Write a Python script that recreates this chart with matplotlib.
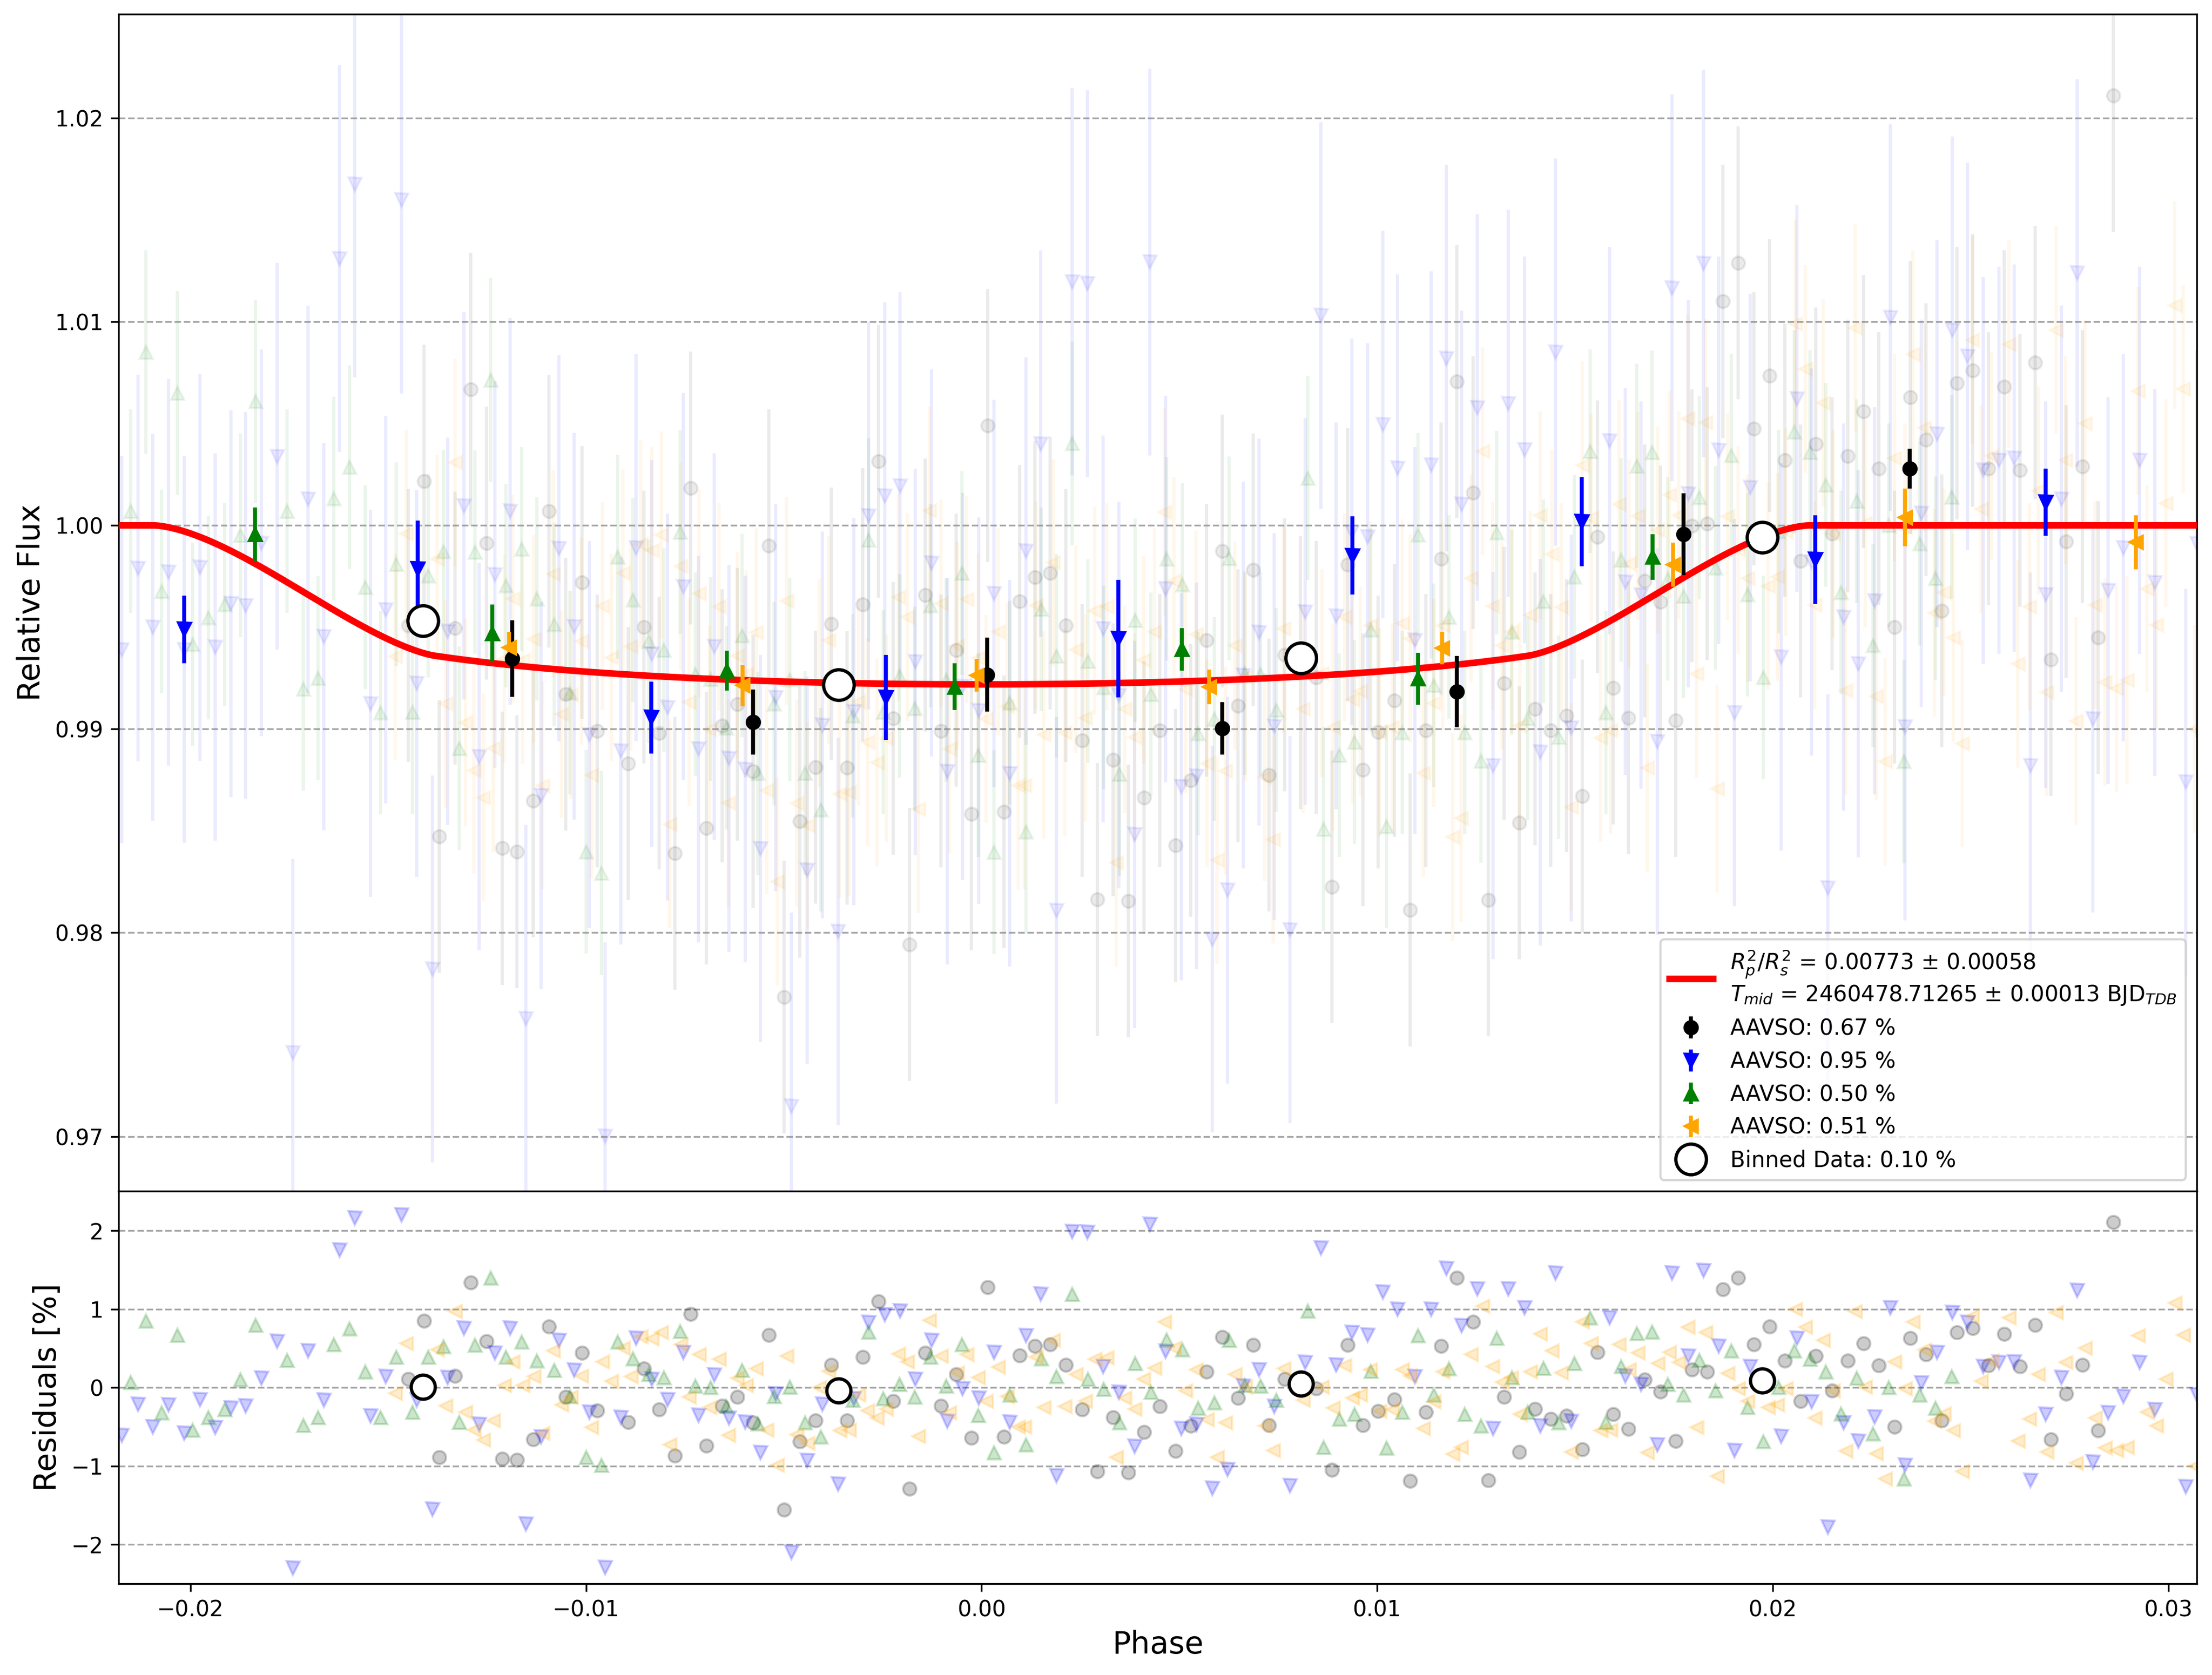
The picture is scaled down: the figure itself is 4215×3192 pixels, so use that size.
import numpy as np
import matplotlib
matplotlib.use("Agg")
import matplotlib.pyplot as plt

# ---- data (phase, residual in %) ----
# AAVSO 0.67 % (black)
k_phase = [-0.01449, -0.01410, -0.01371, -0.01331, -0.01291, -0.01252, -0.01212, -0.01174, -0.01134,
           -0.01093, -0.01051, -0.01010, -0.00972, -0.00893, -0.00853, -0.00815, -0.00775, -0.00736,
           -0.00696, -0.00656, -0.00617, -0.00578, -0.00538, -0.00499, -0.00459, -0.00420, -0.00380,
           -0.00340, -0.00300, -0.00261, -0.00223, -0.00182, -0.00143, -0.00103, -0.00064, -0.00026,
           0.00016, 0.00056, 0.00096, 0.00135, 0.00174, 0.00213, 0.00254, 0.00293, 0.00333, 0.00371,
           0.00411, 0.00451, 0.00491, 0.00529, 0.00569, 0.00608, 0.00648, 0.00687, 0.00726, 0.00766,
           0.00806, 0.00846, 0.00886, 0.00925, 0.00964, 0.01003, 0.01043, 0.01084, 0.01123, 0.01162,
           0.01202, 0.01242, 0.01281, 0.01321, 0.01360, 0.01399, 0.01439, 0.01479, 0.01518, 0.01557,
           0.01597, 0.01636, 0.01676, 0.01716, 0.01755, 0.01796, 0.01834, 0.01874, 0.01913, 0.01952,
           0.01992, 0.02031, 0.02070, 0.02109, 0.02150, 0.02190, 0.02230, 0.02268, 0.02308, 0.02348,
           0.02387, 0.02427, 0.02466, 0.02506, 0.02546, 0.02585, 0.02625, 0.02663, 0.02703, 0.02742,
           0.02783, 0.02823, 0.02861]
k_res = [0.11, 0.85, -0.89, 0.15, 1.34, 0.59, -0.91, -0.92, -0.66,
         0.78, -0.12, 0.44, -0.29, -0.44, 0.24, -0.28, -0.87, 0.94,
         -0.74, -0.23, -0.12, -0.45, 0.67, -1.56, -0.69, -0.42, 0.29,
         -0.42, 0.39, 1.10, -0.17, -1.29, 0.44, -0.23, 0.17, -0.64,
         1.28, -0.63, 0.41, 0.53, 0.55, 0.29, -0.28, -1.07, -0.38, -1.08,
         -0.57, -0.24, -0.81, -0.49, 0.20, 0.64, -0.13, 0.54, -0.48, 0.11,
         0.02, -0.01, -1.05, 0.54, -0.48, -0.30, -0.15, -1.19, -0.31, 0.53,
         1.40, 0.84, -1.18, -0.12, -0.82, -0.27, -0.40, -0.36, -0.79, 0.45,
         -0.34, -0.53, 0.10, -0.05, -0.68, 0.23, 0.20, 1.25, 1.40, 0.55,
         0.78, 0.34, -0.17, 0.40, -0.04, 0.34, 0.56, 0.28, -0.50, 0.63,
         0.42, -0.42, 0.70, 0.76, 0.28, 0.68, 0.27, 0.80, -0.66, -0.08,
         0.29, -0.55, 2.11]

# AAVSO 0.95 % (blue)
b_phase = [-0.02174, -0.02133, -0.02095, -0.02055, -0.02016, -0.01976, -0.01938, -0.01898, -0.01860,
           -0.01820, -0.01781, -0.01741, -0.01703, -0.01663, -0.01623, -0.01585, -0.01544, -0.01506,
           -0.01466, -0.01428, -0.01388, -0.01350, -0.01309, -0.01270, -0.01230, -0.01192, -0.01152,
           -0.01113, -0.01069, -0.01030, -0.00991, -0.00951, -0.00912, -0.00873, -0.00834, -0.00794,
           -0.00754, -0.00716, -0.00676, -0.00638, -0.00598, -0.00559, -0.00520, -0.00481, -0.00441,
           -0.00402, -0.00363, -0.00323, -0.00285, -0.00245, -0.00206, -0.00167, -0.00127, -0.00087,
           -0.00048, -0.00007, 0.00032, 0.00071, 0.00112, 0.00150, 0.00189, 0.00229, 0.00268, 0.00307,
           0.00347, 0.00387, 0.00425, 0.00465, 0.00505, 0.00544, 0.00583, 0.00622, 0.00662, 0.00701,
           0.00740, 0.00780, 0.00818, 0.00858, 0.00897, 0.00936, 0.00976, 0.01015, 0.01052, 0.01096,
           0.01136, 0.01175, 0.01214, 0.01253, 0.01293, 0.01332, 0.01373, 0.01412, 0.01451, 0.01491,
           0.01588, 0.01628, 0.01667, 0.01708, 0.01746, 0.01786, 0.01825, 0.01863, 0.01903, 0.01943,
           0.02021, 0.02061, 0.02099, 0.02139, 0.02179, 0.02217, 0.02257, 0.02297, 0.02335, 0.02376,
           0.02415, 0.02454, 0.02493, 0.02532, 0.02572, 0.02611, 0.02652, 0.02690, 0.02730, 0.02770,
           0.02810, 0.02848, 0.02887, 0.02927, 0.02966, 0.03044, 0.03072]
b_res = [-0.61, -0.21, -0.50, -0.22, -0.58, -0.15, -0.51, -0.26, -0.23,
         0.12, 0.59, -2.30, 0.47, -0.16, 1.75, 2.16, -0.36, 0.14,
         2.20, -0.16, -1.55, 0.13, 0.76, -0.47, 0.44, 0.76, -1.74,
         -0.63, 0.60, 0.22, -0.31, -2.29, -0.38, 0.63, 0.11, -0.15,
         0.45, -0.35, 0.16, -0.39, -0.44, -0.83, -0.08, -2.10, -0.93,
         -0.21, -1.23, -0.14, 0.83, 0.93, 0.98, 0.11, 0.60, -0.43,
         -0.01, -0.13, 0.45, -0.44, 0.66, 1.19, -1.12, 1.99, 1.98, 0.27,
         -0.06, -0.75, 2.08, 0.46, -0.52, -0.47, -1.28, -1.04, 0.02, 0.23,
         -0.24, -1.25, 0.32, 1.78, 0.29, 0.70, 0.67, 1.22, 1.00, 0.14,
         1.00, 1.52, 0.79, 1.26, -0.52, 1.26, 1.02, -0.49, 1.46, -0.43,
         0.89, 0.15, 0.04, -0.73, 1.46, 0.40, 1.49, 0.53, -0.80, 0.27,
         -0.62, 0.63, -0.18, -1.78, -0.45, -0.68, -0.37, 1.02, -0.99, 0.06,
         0.45, 0.96, 0.83, 0.27, 0.32, 0.33, -1.18, -0.34, 0.13, 1.24,
         -0.95, -0.32, -0.11, 0.32, -0.28, -1.26, -0.09]

# AAVSO 0.50 % (green)
g_phase = [-0.02151, -0.02113, -0.02073, -0.02033, -0.01994, -0.01954, -0.01914, -0.01874, -0.01835,
           -0.01755, -0.01715, -0.01677, -0.01638, -0.01598, -0.01558, -0.01519, -0.01479, -0.01439,
           -0.01399, -0.01360, -0.01320, -0.01281, -0.01241, -0.01202, -0.01163, -0.01124, -0.01080,
           -0.01040, -0.01000, -0.00961, -0.00920, -0.00881, -0.00842, -0.00803, -0.00762, -0.00724,
           -0.00685, -0.00645, -0.00605, -0.00566, -0.00524, -0.00485, -0.00446, -0.00407, -0.00326,
           -0.00286, -0.00249, -0.00208, -0.00169, -0.00129, -0.00089, -0.00049, -0.00008, 0.00032,
           0.00071, 0.00112, 0.00151, 0.00189, 0.00229, 0.00269, 0.00309, 0.00349, 0.00388, 0.00428,
           0.00468, 0.00508, 0.00548, 0.00588, 0.00626, 0.00666, 0.00705, 0.00745, 0.00825, 0.00865,
           0.00904, 0.00943, 0.00984, 0.01024, 0.01063, 0.01103, 0.01143, 0.01182, 0.01222, 0.01262,
           0.01302, 0.01341, 0.01381, 0.01420, 0.01459, 0.01499, 0.01539, 0.01578, 0.01617, 0.01656,
           0.01695, 0.01735, 0.01775, 0.01815, 0.01855, 0.01896, 0.01936, 0.01976, 0.02015, 0.02054,
           0.02094, 0.02134, 0.02173, 0.02213, 0.02253, 0.02293, 0.02332, 0.02372, 0.02412, 0.02452]
g_res = [0.07, 0.85, -0.32, 0.67, -0.54, -0.38, -0.28, 0.10, 0.80,
         0.35, -0.48, -0.38, 0.55, 0.75, 0.20, -0.38, 0.39, -0.31,
         0.39, 0.52, -0.44, 0.54, 1.40, 0.39, 0.58, 0.34, 0.22,
         -0.11, -0.89, -0.99, 0.58, 0.37, 0.17, 0.13, 0.72, 0.02,
         0.00, -0.24, 0.22, -0.46, -0.11, 0.01, -0.45, -0.63, -0.16,
         0.71, -0.14, 0.04, -0.12, 0.39, 0.02, 0.55, -0.35, -0.83,
         -0.09, -0.73, 0.37, 0.14, 1.19, 0.11, -0.02, -0.45, 0.31, -0.06,
         0.61, 0.48, -0.26, -0.19, 0.60, 0.03, 0.02, -0.16, 0.98, -0.76,
         -0.40, -0.34, 0.21, -0.77, -0.31, 0.66, -0.09, 0.24, -0.34, -0.49,
         0.63, 0.13, -0.31, 0.25, -0.45, 0.31, 0.89, -0.44, 0.27, 0.69,
         0.71, 0.04, -0.09, 0.35, -0.04, 0.47, -0.25, -0.69, 0.00, 0.47,
         0.36, 0.20, -0.33, 0.12, -0.59, 0.00, -1.16, -0.09, -0.26, 0.14]

# AAVSO 0.51 % (orange)
o_phase = [-0.01482, -0.01454, -0.01376, -0.01355, -0.01331, -0.01304, -0.01283, -0.01259, -0.01234,
           -0.01207, -0.01185, -0.01160, -0.01132, -0.01110, -0.01083, -0.01062, -0.01038, -0.01012,
           -0.00986, -0.00958, -0.00936, -0.00907, -0.00886, -0.00861, -0.00834, -0.00810, -0.00789,
           -0.00761, -0.00739, -0.00714, -0.00688, -0.00664, -0.00640, -0.00617, -0.00595, -0.00570,
           -0.00543, -0.00517, -0.00492, -0.00467, -0.00439, -0.00411, -0.00387, -0.00359, -0.00335,
           -0.00311, -0.00288, -0.00265, -0.00240, -0.00210, -0.00187, -0.00159, -0.00132, -0.00103,
           -0.00082, -0.00061, -0.00037, -0.00008, 0.00012, 0.00042, 0.00064, 0.00092, 0.00109,
           0.00137, 0.00158, 0.00181, 0.00210, 0.00238, 0.00262, 0.00286, 0.00317, 0.00340, 0.00362,
           0.00387, 0.00410, 0.00437, 0.00463, 0.00487, 0.00515, 0.00542, 0.00570, 0.00595, 0.00617,
           0.00641, 0.00667, 0.00716, 0.00737, 0.00764, 0.00813, 0.00861, 0.00889, 0.00917, 0.00938,
           0.00958, 0.00983, 0.01007, 0.01038, 0.01064, 0.01084, 0.01117, 0.01143, 0.01166, 0.01191,
           0.01212, 0.01238, 0.01266, 0.01292, 0.01316, 0.01340, 0.01361, 0.01387, 0.01413, 0.01441,
           0.01465, 0.01491, 0.01519, 0.01541, 0.01565, 0.01590, 0.01612, 0.01637, 0.01659, 0.01683,
           0.01709, 0.01739, 0.01763, 0.01785, 0.01808, 0.01831, 0.01859, 0.01886, 0.01912, 0.01936,
           0.01988, 0.02012, 0.02033, 0.02057, 0.02082, 0.02106, 0.02128, 0.02153, 0.02184, 0.02208,
           0.02233, 0.02261, 0.02284, 0.02308, 0.02334, 0.02355, 0.02383, 0.02409, 0.02433, 0.02457,
           0.02479, 0.02504, 0.02527, 0.02553, 0.02597, 0.02620, 0.02649, 0.02671, 0.02693, 0.02717,
           0.02741, 0.02767, 0.02789, 0.02815, 0.02840, 0.02869, 0.02896, 0.02923, 0.02946, 0.02970,
           0.02994, 0.03016, 0.03038, 0.03067]
o_res = [-0.07, 0.56, 0.48, -0.23, 0.97, -0.31, -0.54, -0.67, -0.42,
         0.03, 0.33, 0.03, 0.14, -0.58, 0.47, -0.22, -0.12, 0.15,
         -0.51, 0.33, 0.08, 0.50, 0.14, 0.65, 0.62, 0.70, -0.73,
         0.55, -0.12, 0.42, -0.25, 0.36, -0.61, 0.12, 0.03, 0.24,
         -0.54, -0.99, 0.40, -0.60, -0.71, 0.00, 0.21, -0.55, -0.54,
         -0.09, -0.29, -0.39, -0.27, 0.43, 0.33, -0.62, 0.86, 0.40,
         -0.32, 0.19, 0.42, 0.13, -0.17, 0.26, -0.11, -0.50, -0.50,
         0.39, -0.25, 0.60, -0.24, 0.17, -0.17, 0.36, 0.38, -0.89, -0.13,
         -0.27, 0.11, 0.25, 0.84, 0.50, -0.04, 0.23, -0.41, -0.89, -0.45,
         0.17, 0.01, -0.49, -0.80, 0.24, -0.16, 0.01, -0.26, 0.28, -0.13,
         -0.09, 0.23, -0.30, -0.28, 0.23, 0.15, -0.52, -0.18, 0.20, -0.85,
         -0.76, 0.42, 1.04, 0.27, 0.07, 0.13, -0.34, 0.20, 0.68, 0.47,
         0.19, -0.82, 0.84, 0.56, -0.55, -0.54, 0.55, 0.23, 0.44, -0.83,
         0.31, 0.45, 0.32, 0.77, -0.51, 0.70, -1.13, 0.18, -0.01, -0.17,
         -0.25, -0.22, -0.01, 1.00, 0.77, -0.39, 0.60, -0.04, -0.81, 0.97,
         0.01, -0.84, -1.16, 0.33, -0.01, 0.84, 0.48, -0.43, -0.33, -0.55,
         -1.07, 0.91, 0.08, 0.34, 0.89, -0.68, -0.40, 0.17, -0.82, 0.96,
         0.32, -0.96, 0.50, -0.39, -0.77, -0.80, -0.76, 0.66, -0.31, -0.49,
         0.11, 1.08, 0.67, -1.00]

# typical per-point uncertainty of each data set (relative flux)
k_err, b_err, g_err, o_err = 0.0067, 0.0095, 0.0050, 0.0051

# per data set binned points (phase, flux, error)
kb_phase = [-0.01187, -0.00577, 0.00014, 0.00608, 0.01202, 0.01774, 0.02347]
kb_flux = [0.99346, 0.99034, 0.99267, 0.99004, 0.99184, 0.99957, 1.00279]
kb_err = [0.00188, 0.00160, 0.00182, 0.00129, 0.00175, 0.00201, 0.00097]

bb_phase = [-0.02016, -0.01425, -0.00835, -0.00242, 0.00346, 0.00938, 0.01517, 0.02108, 0.02690]
bb_flux = [0.99490, 0.99786, 0.99057, 0.99155, 0.99444, 0.99852, 1.00018, 0.99832, 1.00114]
bb_err = [0.00166, 0.00237, 0.00177, 0.00208, 0.00289, 0.00192, 0.00219, 0.00217, 0.00164]

gb_phase = [-0.01837, -0.01237, -0.00644, -0.00068, 0.00507, 0.01103, 0.01697]
gb_flux = [0.99957, 0.99470, 0.99286, 0.99208, 0.99392, 0.99247, 0.99845]
gb_err = [0.00131, 0.00142, 0.00098, 0.00114, 0.00104, 0.00128, 0.00112]

ob_phase = [-0.01195, -0.00604, -0.00013, 0.00576, 0.01165, 0.01748, 0.02335, 0.02918]
ob_flux = [0.99401, 0.99214, 0.99264, 0.99208, 0.99398, 0.99808, 1.00039, 0.99917]
ob_err = [0.00076, 0.00102, 0.00080, 0.00085, 0.00080, 0.00108, 0.00141, 0.00133]

# all data binned
bin_phase = [-0.01412, -0.00361, 0.00808, 0.01973]
bin_flux = [0.99532, 0.99217, 0.99348, 0.99941]
bin_res = [0.01, -0.04, 0.05, 0.09]

rprs2, rprs2_err = 0.00773, 0.00058
tmid, tmid_err = 2460478.71265, 0.00013


def transit_model(phase, rp2=rprs2, b=0.75, v=37.68, u1=0.41, u2=0.2):
    # small planet + quadratic limb darkening
    k = np.sqrt(rp2)
    ph = np.asarray(phase, dtype=float)
    d = np.sqrt((ph * v) ** 2 + b ** 2)
    frac = np.zeros_like(d)
    frac[d <= 1 - k] = 1.0
    part = (d > 1 - k) & (d < 1 + k)
    dp = d[part]
    a1 = k ** 2 * np.arccos((dp ** 2 + k ** 2 - 1) / (2 * dp * k))
    a2 = np.arccos((dp ** 2 + 1 - k ** 2) / (2 * dp))
    a3 = 0.5 * np.sqrt(np.clip((-dp + k + 1) * (dp + k - 1) * (dp - k + 1) * (dp + k + 1), 0, None))
    frac[part] = (a1 + a2 - a3) / (np.pi * k ** 2)
    r = np.where(d <= 1 - k, d, (d - k + 1) / 2)
    mu = np.sqrt(np.clip(1 - r ** 2, 0, None))
    inten = 1 - u1 * (1 - mu) - u2 * (1 - mu) ** 2
    norm = 1 - u1 / 3 - u2 / 6
    return 1 - rp2 * frac * inten / norm


xmin, xmax = -0.02181, 0.03072

fig = plt.figure(figsize=(14.05, 10.64), dpi=300)
gs = fig.add_gridspec(2, 1, height_ratios=[3, 1], hspace=0,
                      left=0.0537, right=0.9931, top=0.9915, bottom=0.0545)
ax = fig.add_subplot(gs[0])
ax2 = fig.add_subplot(gs[1], sharex=ax)

sets = [
    (k_phase, k_res, k_err, 'o', 'black'),
    (b_phase, b_res, b_err, 'v', 'blue'),
    (g_phase, g_res, g_err, '^', 'green'),
    (o_phase, o_res, o_err, '<', 'orange'),
]

# faint raw points
for ph, res, err, mk, col in sets:
    ph = np.array(ph)
    flux = transit_model(ph) * (1 + np.array(res) / 100)
    ax.errorbar(ph, flux, yerr=err, fmt=mk, color=col, alpha=0.08, zorder=1)
    ax2.plot(ph, res, mk, color=col, alpha=0.2, ls='none', zorder=2)

# model
ph_line = np.linspace(xmin, xmax, 2000)
model_label = (r"$R_{p}^{2}/R_{s}^{2}$ = " + f"{rprs2:.5f} ± {rprs2_err:.5f}" + "\n"
               + r"$T_{mid}$ = " + f"{tmid:.5f} ± {tmid_err:.5f} " + r"BJD$_{TDB}$")
line_model, = ax.plot(ph_line, transit_model(ph_line), 'r-', lw=3, zorder=3, label=model_label)

# binned per data set
h1 = ax.errorbar(kb_phase, kb_flux, yerr=kb_err, fmt='o', color='black', elinewidth=1.8, zorder=4,
                 label='AAVSO: 0.67 %')
h2 = ax.errorbar(bb_phase, bb_flux, yerr=bb_err, fmt='v', color='blue', elinewidth=1.8, zorder=4,
                 label='AAVSO: 0.95 %')
h3 = ax.errorbar(gb_phase, gb_flux, yerr=gb_err, fmt='^', color='green', elinewidth=1.8, zorder=4,
                 label='AAVSO: 0.50 %')
h4 = ax.errorbar(ob_phase, ob_flux, yerr=ob_err, fmt='<', color='orange', elinewidth=1.8, zorder=4,
                 label='AAVSO: 0.51 %')

line_bin, = ax.plot(bin_phase, bin_flux, 'o', mfc='white', mec='black', ms=14, mew=1.5, zorder=5,
                    label='Binned Data: 0.10 %')
ax2.plot(bin_phase, bin_res, 'o', mfc='white', mec='black', ms=11, mew=1.5, zorder=5)

ax.set_xlim(xmin, xmax)
ax.set_ylim(0.9673, 1.0251)
ax2.set_ylim(-2.5, 2.5)

ax.set_ylabel('Relative Flux', fontsize=14)
ax2.set_ylabel('Residuals [%]', fontsize=14)
ax2.set_xlabel('Phase', fontsize=14)
ax.tick_params(labelbottom=False)

ax.grid(True, axis='y', ls='--', color='gray', alpha=0.7)
ax2.grid(True, axis='y', ls='--', color='gray', alpha=0.7)

handles = [line_model, h1, h2, h3, h4, line_bin]
ax.legend(handles, [h.get_label() for h in handles], loc='lower right')

fig.savefig('out.png', dpi=300)
